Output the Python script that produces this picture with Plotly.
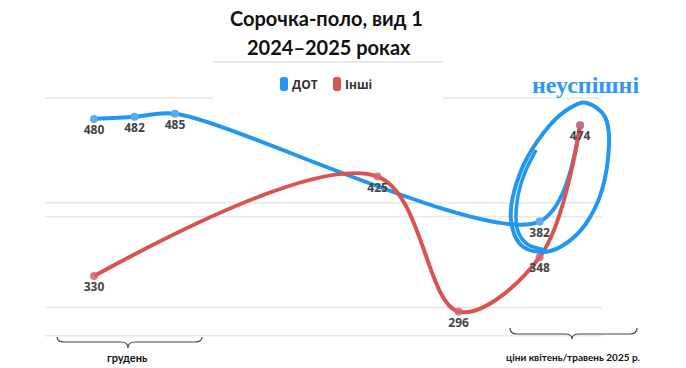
import plotly.graph_objects as go

# ---- data ----
POSITIONS = list(range(13))
DOT = [480, 482, 485, None, None, None, None, None, None, None, None, 382, 474]
INSHI = [330, None, None, None, None, None, None, 425, None, 296, None, 348, 474]
DOT_LABELS = ["480", "482", "485", "", "", "", "", "", "", "", "", "382", ""]
INSHI_LABELS = ["330", "", "", "", "", "", "", "425", "", "296", "", "348", "474"]
GRID_VALUES = [400, 386.5, 300, 273]
TOP_GRID = 500
SERIES_NAMES = ["ДОТ", "Інші"]
TITLE_LINES = ["Сорочка-поло, вид 1", "2024–2025 роках"]
PERIOD_LABELS = ["грудень", "ціни квітень/травень 2025 р."]
NOTE = "неуспішні"

BLUE = "#2196f3"
RED = "#d9534f"
W, H = 686, 368
L, R, T, B = 45, 84, 62, 23
PW, PH = W - L - R, H - T - B


def px(xp):
    return (xp - L) / PW


def py(yp):
    return (H - B - yp) / PH


fig = go.Figure()

fig.add_trace(go.Scatter(
    x=POSITIONS, y=DOT, name=SERIES_NAMES[0], mode="lines+markers+text",
    connectgaps=True, line=dict(color=BLUE, width=4, shape="spline", smoothing=0.9),
    marker=dict(color="#5aacf3", size=8), text=DOT_LABELS, textposition="bottom center",
    textfont=dict(family="Open Sans", size=12, color="#444444", weight="bold"),
    cliponaxis=False, showlegend=False, hoverinfo="skip"))

fig.add_trace(go.Scatter(
    x=POSITIONS, y=INSHI, name=SERIES_NAMES[1], mode="lines+markers+text",
    connectgaps=True, line=dict(color=RED, width=4, shape="spline", smoothing=1.0),
    marker=dict(color="rgba(214,100,110,0.85)", size=8), text=INSHI_LABELS,
    textposition="bottom center",
    textfont=dict(family="Open Sans", size=12, color="#444444", weight="bold"),
    cliponaxis=False, showlegend=False, hoverinfo="skip"))

shapes = []
GRID_COLOR = "#e8e8e8"
for g in GRID_VALUES:
    shapes.append(dict(type="line", xref="paper", yref="y", x0=0, x1=1, y0=g, y1=g,
                       line=dict(color=GRID_COLOR, width=1.5), layer="below"))
# top grid line interrupted by the legend panel
shapes.append(dict(type="line", xref="paper", yref="y", x0=0, x1=px(213), y0=TOP_GRID, y1=TOP_GRID,
                   line=dict(color=GRID_COLOR, width=1.5), layer="below"))
shapes.append(dict(type="line", xref="paper", yref="y", x0=px(443), x1=1, y0=TOP_GRID, y1=TOP_GRID,
                   line=dict(color=GRID_COLOR, width=1.5), layer="below"))
shapes.append(dict(type="line", xref="paper", yref="paper", x0=px(213), x1=px(443), y0=py(62), y1=py(62),
                   line=dict(color=GRID_COLOR, width=2), layer="below"))


def rounded_rect(x0, y0, x1, y1, r):
    pts = [
        f"M {px(x0 + r)},{py(y0)}", f"L {px(x1 - r)},{py(y0)}", f"Q {px(x1)},{py(y0)} {px(x1)},{py(y0 + r)}",
        f"L {px(x1)},{py(y1 - r)}", f"Q {px(x1)},{py(y1)} {px(x1 - r)},{py(y1)}",
        f"L {px(x0 + r)},{py(y1)}", f"Q {px(x0)},{py(y1)} {px(x0)},{py(y1 - r)}",
        f"L {px(x0)},{py(y0 + r)}", f"Q {px(x0)},{py(y0)} {px(x0 + r)},{py(y0)}", "Z"]
    return " ".join(pts)


shapes.append(dict(type="path", xref="paper", yref="paper", path=rounded_rect(280, 77, 288, 91, 3),
                   fillcolor=BLUE, line=dict(width=0)))
shapes.append(dict(type="path", xref="paper", yref="paper", path=rounded_rect(333, 77, 341, 91, 3),
                   fillcolor=RED, line=dict(width=0)))


def brace(x1, x2, xm, ytop, ymid, ytip, c=7):
    p = [f"M {px(x1)},{py(ytop)}",
         f"Q {px(x1)},{py(ymid)} {px(x1 + c)},{py(ymid)}",
         f"L {px(xm - c)},{py(ymid)}",
         f"Q {px(xm)},{py(ymid)} {px(xm)},{py(ytip)}",
         f"Q {px(xm)},{py(ymid)} {px(xm + c)},{py(ymid)}",
         f"L {px(x2 - c)},{py(ymid)}",
         f"Q {px(x2)},{py(ymid)} {px(x2)},{py(ytop)}"]
    return " ".join(p)


shapes.append(dict(type="path", xref="paper", yref="paper", path=brace(57, 202, 128, 337, 342, 348),
                   line=dict(color="#3a4a3a", width=1.2)))
shapes.append(dict(type="path", xref="paper", yref="paper", path=brace(510, 637, 572, 328, 334, 339),
                   line=dict(color="#3a4a3a", width=1.2)))


def smooth(points, closed=False):
    pts = list(points)
    n = len(pts)
    if closed:
        ext = [pts[-1]] + pts + [pts[0], pts[1]]
    else:
        ext = [pts[0]] + pts + [pts[-1]]
    segs = [f"M {px(pts[0][0])},{py(pts[0][1])}"]
    count = n if closed else n - 1
    for i in range(count):
        p0, p1, p2, p3 = ext[i], ext[i + 1], ext[i + 2], ext[i + 3]
        c1 = (p1[0] + (p2[0] - p0[0]) / 6, p1[1] + (p2[1] - p0[1]) / 6)
        c2 = (p2[0] - (p3[0] - p1[0]) / 6, p2[1] - (p3[1] - p1[1]) / 6)
        segs.append(f"C {px(c1[0])},{py(c1[1])} {px(c2[0])},{py(c2[1])} {px(p2[0])},{py(p2[1])}")
    return " ".join(segs)


ELLIPSE = [(587, 103), (605, 117), (609, 145), (602, 190), (585, 225), (562, 246), (540, 252),
           (520, 244), (511, 220), (514, 192), (527, 158), (550, 125), (570, 108)]
shapes.append(dict(type="path", xref="paper", yref="paper", path=smooth(ELLIPSE, closed=True),
                   line=dict(color=BLUE, width=4)))
STROKE = [(536, 150), (524, 175), (517, 202), (517, 228), (527, 244), (545, 250)]
shapes.append(dict(type="path", xref="paper", yref="paper", path=smooth(STROKE),
                   line=dict(color=BLUE, width=3.5)))


def note(text, x, y, size, family="Lato", color="#111111", xanchor="center"):
    return dict(text=text, x=px(x), y=py(y), xref="paper", yref="paper", showarrow=False,
                xanchor=xanchor, yanchor="middle",
                font=dict(family=family, size=size, color=color, weight="bold"))


annotations = [
    note(TITLE_LINES[0], 327, 18, 20),
    note(TITLE_LINES[1], 329, 47, 20),
    note(SERIES_NAMES[0], 290, 84, 12, family="Open Sans", color="#333333", xanchor="left"),
    note(SERIES_NAMES[1], 343, 84, 12, family="Open Sans", color="#333333", xanchor="left"),
    note(PERIOD_LABELS[0], 128, 357, 11),
    note(PERIOD_LABELS[1], 573, 357, 10),
    note(NOTE, 585, 85, 24, family="Liberation Serif", color="#2f97f2"),
]

fig.update_layout(
    width=W, height=H, margin=dict(l=L, r=R, t=T, b=B),
    paper_bgcolor="white", plot_bgcolor="white",
    xaxis=dict(range=[-1.21, 12.54], visible=False, fixedrange=True),
    yaxis=dict(range=[264.1, 534.4], visible=False, fixedrange=True),
    shapes=shapes, annotations=annotations, showlegend=False,
)

fig.write_html("out.html", config={"displayModeBar": False},
               post_script="document.body.style.margin='0px';")
